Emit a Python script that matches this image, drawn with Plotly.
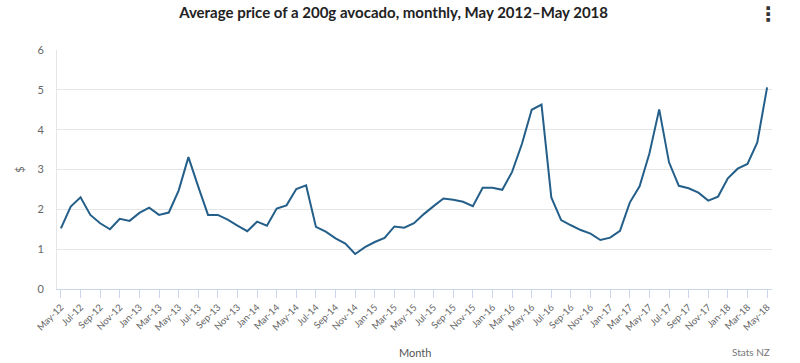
import plotly.graph_objects as go

months = [
    "May-12", "Jun-12", "Jul-12", "Aug-12", "Sep-12", "Oct-12", "Nov-12", "Dec-12",
    "Jan-13", "Feb-13", "Mar-13", "Apr-13", "May-13", "Jun-13", "Jul-13", "Aug-13",
    "Sep-13", "Oct-13", "Nov-13", "Dec-13",
    "Jan-14", "Feb-14", "Mar-14", "Apr-14", "May-14", "Jun-14", "Jul-14", "Aug-14",
    "Sep-14", "Oct-14", "Nov-14", "Dec-14",
    "Jan-15", "Feb-15", "Mar-15", "Apr-15", "May-15", "Jun-15", "Jul-15", "Aug-15",
    "Sep-15", "Oct-15", "Nov-15", "Dec-15",
    "Jan-16", "Feb-16", "Mar-16", "Apr-16", "May-16", "Jun-16", "Jul-16", "Aug-16",
    "Sep-16", "Oct-16", "Nov-16", "Dec-16",
    "Jan-17", "Feb-17", "Mar-17", "Apr-17", "May-17", "Jun-17", "Jul-17", "Aug-17",
    "Sep-17", "Oct-17", "Nov-17", "Dec-17",
    "Jan-18", "Feb-18", "Mar-18", "Apr-18", "May-18",
]

price = [
    1.52, 2.07, 2.30, 1.86, 1.65, 1.50, 1.76, 1.71,
    1.91, 2.04, 1.86, 1.92, 2.47, 3.31, 2.57, 1.86,
    1.86, 1.74, 1.59, 1.45,
    1.69, 1.59, 2.02, 2.10, 2.51, 2.60, 1.56, 1.44,
    1.27, 1.14, 0.88, 1.05,
    1.18, 1.28, 1.57, 1.54, 1.65, 1.88, 2.08, 2.27,
    2.24, 2.19, 2.08, 2.54,
    2.54, 2.49, 2.94, 3.64, 4.50, 4.63, 2.30, 1.73,
    1.60, 1.48, 1.39, 1.23,
    1.29, 1.46, 2.17, 2.58, 3.40, 4.51, 3.18, 2.59,
    2.53, 2.42, 2.22, 2.32,
    2.78, 3.02, 3.14, 3.68, 5.06,
]

tick_labels = months[::2]
y_ticks = [0, 1, 2, 3, 4, 5, 6]

title_text = "Average price of a 200g avocado, monthly, May 2012\u2013May 2018"

fig = go.Figure()
fig.add_trace(go.Scatter(
    x=months, y=price, mode="lines",
    line=dict(color="#245f8a", width=2),
    hoverinfo="x+y",
))

font_family = "Lato, 'Open Sans', sans-serif"

fig.update_layout(
    width=800, height=363,
    margin=dict(l=57, r=28, t=50, b=74),
    paper_bgcolor="white", plot_bgcolor="white",
    showlegend=False,
    font=dict(family=font_family, color="#666"),
    title=dict(
        text="<b>" + title_text + "</b>",
        x=0.492, xanchor="center", y=0.965, yanchor="middle",
        font=dict(size=15, color="#222", family=font_family),
    ),
    xaxis=dict(
        type="category",
        range=[-0.4, 72.5],
        tickmode="array", tickvals=tick_labels, ticktext=tick_labels,
        tickangle=-45,
        ticks="outside", ticklen=8, tickcolor="#ccd6eb", tickwidth=1,
        showline=True, linecolor="#ccd6eb", linewidth=1,
        showgrid=False, zeroline=False,
        tickfont=dict(size=9.5, color="#666"),
    ),
    yaxis=dict(
        range=[0, 6],
        tickmode="array", tickvals=y_ticks,
        showgrid=True, gridcolor="#e6e6e6", gridwidth=1,
        zeroline=False,
        showline=True, linecolor="#e6e6e6", linewidth=1,
        ticks="", ticklabelstandoff=10,
        tickfont=dict(size=11, color="#666"),
        title=dict(text="$", font=dict(size=11, color="#666"), standoff=10),
    ),
    annotations=[
        dict(text="Month", xref="paper", yref="paper", x=0.5, y=-0.265,
             xanchor="center", yanchor="middle", showarrow=False,
             font=dict(size=11, color="#555", family=font_family)),
        dict(text="Stats NZ", xref="paper", yref="paper", x=1.0, y=-0.265,
             xanchor="right", yanchor="middle", showarrow=False,
             font=dict(size=10, color="#777", family=font_family)),
        dict(text="<b>\u22ee</b>", xref="paper", yref="paper", x=0.995, y=1.15,
             xanchor="center", yanchor="middle", showarrow=False,
             font=dict(size=20, color="#333", family="DejaVu Sans")),
    ],
)

fig.write_html("out.html", config={"displayModeBar": False},
               post_script="document.body.style.margin='0px';")
